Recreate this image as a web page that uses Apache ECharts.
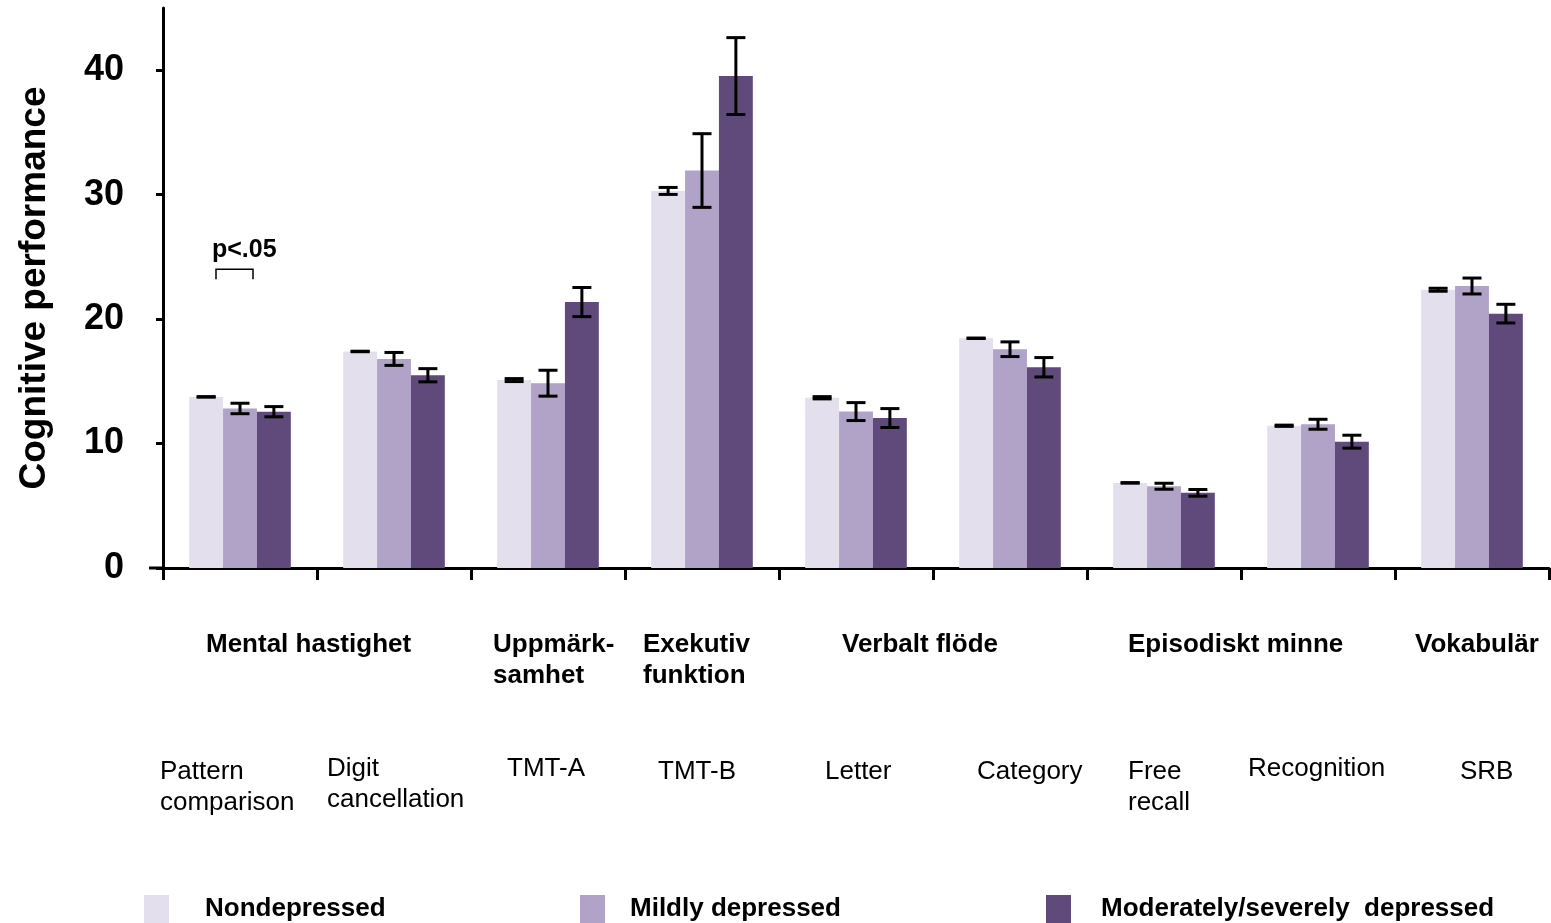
<!DOCTYPE html>
<html>
<head>
<meta charset="utf-8">
<script src="https://cdn.jsdelivr.net/npm/echarts@6/dist/echarts.min.js"></script>
<style>
html,body{margin:0;padding:0;background:#fff;}
#c{width:1551px;height:923px;}
</style>
</head>
<body>
<div id="c"></div>
<script>
// ---- data ----
const categories = ['Pattern comparison','Digit cancellation','TMT-A','TMT-B','Letter','Category','Free recall','Recognition','SRB'];
const testLabels = ['Pattern\ncomparison','Digit\ncancellation','TMT-A','TMT-B','Letter','Category','Free\nrecall','Recognition','SRB'];
const groupLabels = ['Mental hastighet','Uppmärk-\nsamhet','Exekutiv\nfunktion','Verbalt flöde','Episodiskt minne','Vokabulär'];
const seriesNames = ['Nondepressed','Mildly depressed','Moderately/severely  depressed'];
const nondepressed    = [13.75, 17.4, 15.1, 30.3, 13.68, 18.46, 6.84, 11.43, 22.36];
const nondepressedErr = [0.02, 0.02, 0.12, 0.28, 0.09, 0.02, 0.02, 0.05, 0.12];
const mild            = [12.82, 16.8, 14.85, 31.94, 12.57, 17.58, 6.57, 11.55, 22.66];
const mildErr         = [0.42, 0.52, 1.04, 2.96, 0.72, 0.59, 0.24, 0.4, 0.64];
const moderate        = [12.56, 15.49, 21.37, 39.53, 12.05, 16.13, 6.04, 10.15, 20.44];
const moderateErr     = [0.41, 0.53, 1.17, 3.09, 0.76, 0.78, 0.27, 0.52, 0.75];
const yTicks = [0, 10, 20, 30, 40];
const sigLabel = 'p<.05';

// ---- layout / style ----
const FONT = 'Liberation Sans, Arial, sans-serif';
const colors = ['#E4DFEC', '#B1A2C7', '#604A7B'];
const GAP = 0.34; // barCategoryGap
// label left offsets (px) from category center
const testOffsets = [-80, -67, -41, -44, -31, -33, -36, -70, -12];
const testTops    = [756, 753, 753, 756, 756, 756, 756, 753, 756];
const groupAnchors = [0, 2, 3, 4, 6, 8];
const groupOffsets = [-34, -55, -59, -14, -36, -57];

const values = [nondepressed, mild, moderate];
const errs = [nondepressedErr, mildErr, moderateErr];

const chart = echarts.init(document.getElementById('c'), null, {renderer: 'canvas'});

function errSeries(si) {
  return {
    type: 'custom',
    name: seriesNames[si] + ' err',
    z: 10,
    silent: true,
    data: values[si].map((v, i) => [i, v, errs[si][i]]),
    renderItem: function (params, api) {
      const xi = api.value(0), y = api.value(1), e = api.value(2);
      const band = api.size([1, 0])[0];
      const bw = band * (1 - GAP) / 3;
      const cx = api.coord([xi, y])[0] + (si - 1) * bw;
      const top = api.coord([xi, y + e])[1];
      const bot = api.coord([xi, y - e])[1];
      const hw = 9.5;
      const st = {stroke: '#000', lineWidth: 3};
      return {type: 'group', children: [
        {type: 'line', shape: {x1: cx, y1: top, x2: cx, y2: bot}, style: st},
        {type: 'line', shape: {x1: cx - hw, y1: top, x2: cx + hw, y2: top}, style: st},
        {type: 'line', shape: {x1: cx - hw, y1: bot, x2: cx + hw, y2: bot}, style: st}
      ]};
    }
  };
}

const barSeries = values.map((arr, si) => ({
  type: 'bar',
  name: seriesNames[si],
  data: arr,
  barGap: 0,
  barCategoryGap: (GAP * 100) + '%',
  itemStyle: {color: colors[si]},
  emphasis: {disabled: true}
}));

const legendLefts = [144, 580, 1046];
const legendTextGaps = [31, 20, 25];
const legends = seriesNames.map((n, i) => ({
  data: [n],
  left: legendLefts[i],
  top: 895,
  padding: 0,
  icon: 'rect',
  itemWidth: 25,
  itemHeight: 28,
  selectedMode: false,
  textStyle: {fontFamily: FONT, fontSize: 26, fontWeight: 'bold', color: '#000', padding: [0, 0, 0, legendTextGaps[i]]}
}));

chart.setOption({
  animation: false,
  backgroundColor: '#fff',
  grid: {left: 163, right: 2, top: 8, bottom: 355, containLabel: false, outerBoundsMode: 'none'},
  legend: legends,
  xAxis: {
    type: 'category',
    data: categories,
    axisLine: {lineStyle: {color: '#000', width: 3}},
    axisTick: {show: true, length: 12, lineStyle: {color: '#000', width: 3}},
    axisLabel: {show: false},
    splitLine: {show: false}
  },
  yAxis: {
    type: 'value',
    min: 0, max: 45, interval: 10,
    name: 'Cognitive performance',
    nameLocation: 'middle',
    nameGap: 110,
    nameTextStyle: {fontFamily: FONT, fontSize: 37, fontWeight: 'bold', color: '#000'},
    axisLine: {show: true, lineStyle: {color: '#000', width: 3}},
    axisTick: {show: true, length: 7, lineStyle: {color: '#000', width: 3}, customValues: yTicks},
    axisLabel: {fontFamily: FONT, fontSize: 36, fontWeight: 'bold', color: '#000', margin: 39,
      padding: [8, 0, 0, 0], customValues: yTicks},
    splitLine: {show: false}
  },
  series: barSeries.concat([errSeries(0), errSeries(1), errSeries(2)])
});

// ---- text annotations placed via axis scale ----
function cx(i) { return chart.convertToPixel({xAxisIndex: 0}, i); }
function py(v) { return chart.convertToPixel({yAxisIndex: 0}, v); }

const graphics = [];
testLabels.forEach((t, i) => {
  graphics.push({type: 'text', left: cx(i) + testOffsets[i], top: testTops[i],
    style: {text: t, fontFamily: FONT, fontSize: 26, lineHeight: 31, fill: '#000', align: 'left'}});
});
groupLabels.forEach((t, k) => {
  graphics.push({type: 'text', left: cx(groupAnchors[k]) + groupOffsets[k], top: 629,
    style: {text: t, fontFamily: FONT, fontSize: 26, fontWeight: 'bold', lineHeight: 31, fill: '#000', align: 'left'}});
});
// x axis line extends slightly left of the y axis
const y0 = py(0);
const axisX = chart.convertToPixel({gridIndex: 0}, [0, 0])[0] - (cx(1) - cx(0)) / 2;
graphics.push({type: 'line', shape: {x1: axisX - 14, y1: y0, x2: axisX, y2: y0},
  style: {stroke: '#000', lineWidth: 3}});
// significance bracket between nondepressed and mild at first category
const bx1 = cx(0) - 24, bx2 = cx(0) + 13;
const byTop = py(24.0), byBot = py(23.2);
graphics.push({type: 'polyline', shape: {points: [[bx1, byBot], [bx1, byTop], [bx2, byTop], [bx2, byBot]]},
  style: {stroke: '#000', lineWidth: 1.5, fill: null}});
graphics.push({type: 'text', left: cx(0) - 28, top: py(25.6) - 12,
  style: {text: sigLabel, fontFamily: FONT, fontSize: 25, fontWeight: 'bold', fill: '#000'}});

chart.setOption({graphic: graphics});
</script>
</body>
</html>
